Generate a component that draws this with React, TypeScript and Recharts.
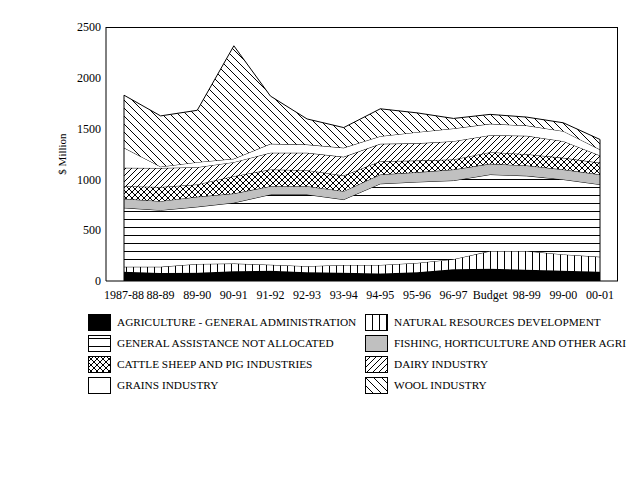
import { AreaChart, Area, XAxis, YAxis, ReferenceLine } from 'recharts';

const categories = ['1987-88', '88-89', '89-90', '90-91', '91-92', '92-93', '93-94', '94-95', '95-96', '96-97', 'Budget', '98-99', '99-00', '00-01'];

const agriAdmin = [90, 78, 80, 95, 100, 85, 80, 75, 85, 115, 120, 110, 100, 90];
const naturalResources = [50, 62, 88, 77, 60, 61, 78, 83, 93, 100, 175, 185, 162, 148];
const generalAssistance = [580, 557, 562, 598, 691, 705, 644, 799, 797, 774, 753, 740, 737, 712];
const fishingHort = [89, 89, 99, 91, 82, 82, 82, 91, 95, 108, 105, 102, 98, 98];
const cattleSheepPig = [124, 139, 121, 171, 164, 158, 154, 131, 115, 99, 115, 111, 115, 115];
const dairy = [181, 187, 170, 138, 165, 171, 184, 171, 170, 180, 167, 181, 164, 72];
const grains = [197, 13, 50, 33, 88, 81, 89, 75, 110, 125, 112, 101, 99, 59];
const wool = [518, 500, 510, 1112, 470, 252, 199, 270, 190, 99, 93, 83, 82, 99];

const yTicks = [0, 500, 1000, 1500, 2000, 2500];

// stacking order, bottom to top (also legend order)
const series = [
  { key: 'agri', name: 'AGRICULTURE - GENERAL ADMINISTRATION', values: agriAdmin, fill: '#000000' },
  { key: 'natural', name: 'NATURAL RESOURCES DEVELOPMENT', values: naturalResources, fill: 'url(#pVert)' },
  { key: 'general', name: 'GENERAL ASSISTANCE NOT ALLOCATED', values: generalAssistance, fill: 'url(#pHoriz)' },
  { key: 'fishing', name: 'FISHING, HORTICULTURE AND OTHER AGRI', values: fishingHort, fill: '#c0c0c0' },
  { key: 'cattle', name: 'CATTLE SHEEP AND PIG INDUSTRIES', values: cattleSheepPig, fill: 'url(#pCross)' },
  { key: 'dairy', name: 'DAIRY INDUSTRY', values: dairy, fill: 'url(#pFwd)' },
  { key: 'grains', name: 'GRAINS INDUSTRY', values: grains, fill: '#ffffff' },
  { key: 'wool', name: 'WOOL INDUSTRY', values: wool, fill: 'url(#pBack)' },
];

const data = categories.map((name, i) => {
  const row: Record<string, string | number> = { name };
  series.forEach((s) => {
    row[s.key] = s.values[i];
  });
  return row;
});

const totals = categories.map((_, i) => series.reduce((sum, s) => sum + s.values[i], 0));

const FONT = "'Liberation Serif', 'Times New Roman', serif";

function Patterns() {
  return (
    <defs>
      <pattern id="pVert" patternUnits="userSpaceOnUse" width={7} height={8}>
        <rect width={7} height={8} fill="#fff" />
        <line x1={0.5} y1={0} x2={0.5} y2={8} stroke="#000" strokeWidth={1} />
      </pattern>
      <pattern id="pHoriz" patternUnits="userSpaceOnUse" width={8} height={8}>
        <rect width={8} height={8} fill="#fff" />
        <line x1={0} y1={3.5} x2={8} y2={3.5} stroke="#000" strokeWidth={1} />
      </pattern>
      <pattern id="pFwd" patternUnits="userSpaceOnUse" width={6} height={6}>
        <rect width={6} height={6} fill="#fff" />
        <path d="M0,6 L6,0 M-1,1 L1,-1 M5,7 L7,5" stroke="#000" strokeWidth={1} />
      </pattern>
      <pattern id="pBack" patternUnits="userSpaceOnUse" width={8} height={8}>
        <rect width={8} height={8} fill="#fff" />
        <path d="M0,0 L8,8 M-1,7 L1,9 M7,-1 L9,1" stroke="#000" strokeWidth={1} />
      </pattern>
      <pattern id="pCross" patternUnits="userSpaceOnUse" width={6} height={6}>
        <rect width={6} height={6} fill="#fff" />
        <path d="M0,0 L6,6 M-1,5 L1,7 M5,-1 L7,1 M0,6 L6,0 M-1,1 L1,-1 M5,7 L7,5" stroke="#000" strokeWidth={1} />
      </pattern>
    </defs>
  );
}

function LegendBlock() {
  return (
    <>
      {series.map((s, i) => {
        const col = i % 2;
        const row = Math.floor(i / 2);
        const cy = 322 + row * 21.3;
        const left = col === 0 ? 88 : 365;
        return (
          <div key={s.key}>
            <svg width={23} height={17} style={{ position: 'absolute', left, top: cy - 8.5 }}>
              <rect x={0.5} y={0.5} width={22} height={16} fill={s.fill} stroke="#000" strokeWidth={1} />
            </svg>
            <div
              style={{
                position: 'absolute',
                left: left + 29,
                top: cy - 8.5,
                height: 17,
                lineHeight: '17px',
                fontSize: 11.3,
                fontFamily: FONT,
                whiteSpace: 'nowrap',
                color: '#000',
              }}
            >
              {s.name}
            </div>
          </div>
        );
      })}
    </>
  );
}

export default function App() {
  const first = categories[0];
  const last = categories[categories.length - 1];
  return (
    <div style={{ position: 'absolute', left: 0, top: 0, width: 640, height: 480, background: '#fff', overflow: 'hidden' }}>
      <AreaChart
        width={640}
        height={310}
        data={data}
        margin={{ top: 27, right: 22, left: 0, bottom: 4 }}
        style={{ fontFamily: FONT }}
      >
        <Patterns />
        <XAxis
          dataKey="name"
          interval={0}
          padding={{ left: 18, right: 18 }}
          tickLine={false}
          tickSize={0}
          tickMargin={9}
          height={25}
          axisLine={{ stroke: '#000' }}
          tick={{ fontSize: 12, fill: '#000', fontFamily: FONT }}
        />
        <YAxis
          domain={[0, 2500]}
          ticks={yTicks}
          width={106}
          tickLine={false}
          tickSize={0}
          tickMargin={5}
          axisLine={{ stroke: '#000' }}
          tick={{ fontSize: 12, fill: '#000', fontFamily: FONT }}
          label={{
            value: '$ Million',
            angle: -90,
            position: 'insideLeft',
            offset: 62,
            style: { textAnchor: 'middle', fontSize: 11, fill: '#000', fontFamily: FONT },
          }}
        />
        {series.map((s) => (
          <Area
            key={s.key}
            type="linear"
            dataKey={s.key}
            name={s.name}
            stackId="a"
            fill={s.fill}
            fillOpacity={1}
            stroke="#000"
            strokeWidth={1}
            dot={false}
            activeDot={false}
            isAnimationActive={false}
          />
        ))}
        <ReferenceLine segment={[{ x: first, y: 0 }, { x: first, y: totals[0] }]} stroke="#000" strokeWidth={1} />
        <ReferenceLine
          segment={[{ x: last, y: 0 }, { x: last, y: totals[totals.length - 1] }]}
          stroke="#000"
          strokeWidth={1}
        />
      </AreaChart>
      {/* plot frame: top and right edges */}
      <div
        style={{
          position: 'absolute',
          left: 106,
          top: 27,
          width: 512,
          height: 254,
          boxSizing: 'border-box',
          borderTop: '1px solid #000',
          borderRight: '1px solid #000',
          pointerEvents: 'none',
        }}
      />
      <LegendBlock />
    </div>
  );
}
